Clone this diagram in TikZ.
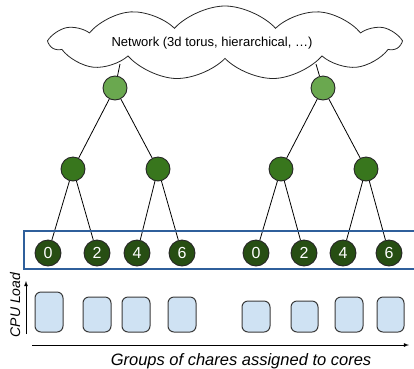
\documentclass[tikz,border=0pt]{standalone}
\usepackage{fontspec}
\setmainfont{Liberation Sans}
\usetikzlibrary{shapes.symbols}
\definecolor{topgreen}{HTML}{6AA84F}
\definecolor{midgreen}{HTML}{38761D}
\definecolor{leafgreen}{HTML}{274E13}
\definecolor{groupblue}{HTML}{2F5F9B}
\definecolor{loadfill}{HTML}{CFE2F3}
\definecolor{loadedge}{HTML}{3A3A3A}
\tikzset{
  treenode/.style={circle, draw=black!85, line width=0.9pt, inner sep=0pt},
  topnode/.style={treenode, fill=topgreen, minimum size=24pt},
  midnode/.style={treenode, fill=midgreen, minimum size=24pt},
  leafnode/.style={treenode, fill=leafgreen, minimum size=26pt, text=white,
    font=\fontsize{16}{16}\selectfont},
  link/.style={draw=black, line width=0.8pt},
  loadbox/.style={draw=loadedge, line width=1pt, fill=loadfill, rounded corners=6pt},
  axis/.style={draw=black, line width=0.8pt, -latex}
}
\begin{document}
\begin{tikzpicture}[x=1pt, y=-1pt]
\useasboundingbox (0,0) rectangle (414,368);

% tree nodes
\node[topnode] (t1) at (115,88) {};
\node[topnode] (t2) at (323,88) {};
\node[midnode] (m1) at (73,169) {};
\node[midnode] (m2) at (158,169) {};
\node[midnode] (m3) at (281,169) {};
\node[midnode] (m4) at (366,169) {};
\node[leafnode] (l1) at (48,253) {0};
\node[leafnode] (l2) at (97,253) {2};
\node[leafnode] (l3) at (137,253) {4};
\node[leafnode] (l4) at (182,253) {6};
\node[leafnode] (l5) at (256,253) {0};
\node[leafnode] (l6) at (304,253) {2};
\node[leafnode] (l7) at (343,253) {4};
\node[leafnode] (l8) at (389,253) {6};

% links up to the network
\coordinate (u1) at (120,64);
\coordinate (u2) at (316,64);
\draw[link] (u1) -- (t1);
\draw[link] (u2) -- (t2);

% network cloud
\node[cloud, cloud puffs=11, cloud puff arc=95, aspect=4.9, draw=black!85,
  line width=0.8pt, fill=white, minimum width=348pt, minimum height=74pt,
  inner sep=0pt] (net) at (225,43) {};
\node[font=\fontsize{13}{13}\selectfont] (netlabel) at (212,43)
  {Network (3d torus, hierarchical, …)};

% tree links
\draw[link] (t1) -- (m1);
\draw[link] (t1) -- (m2);
\draw[link] (t2) -- (m3);
\draw[link] (t2) -- (m4);
\draw[link] (m1) -- (l1);
\draw[link] (m1) -- (l2);
\draw[link] (m2) -- (l3);
\draw[link] (m2) -- (l4);
\draw[link] (m3) -- (l5);
\draw[link] (m3) -- (l6);
\draw[link] (m4) -- (l7);
\draw[link] (m4) -- (l8);

% group frame around the leaves
\draw[groupblue, line width=1.5pt] (424,231) -- (24,231) -- (24,269) -- (424,269);

% load per group
\draw[loadbox] (35,292) rectangle (63,332);
\draw[loadbox] (83,297) rectangle (111,332);
\draw[loadbox] (122,297) rectangle (150,332);
\draw[loadbox] (168,297) rectangle (196,332);
\draw[loadbox] (242,301) rectangle (270,332);
\draw[loadbox] (291,301) rectangle (318,332);
\draw[loadbox] (335,297) rectangle (363,332);
\draw[loadbox] (377,297) rectangle (404,332);

% axes
\coordinate (ya) at (26,334);
\coordinate (yb) at (26,281);
\coordinate (xa) at (32,345);
\coordinate (xb) at (409,345);
\draw[axis] (ya) -- (yb);
\draw[axis] (xa) -- (xb);
\node[rotate=90, font=\fontsize{14}{14}\selectfont\itshape] (ylabel) at (15,305) {CPU Load};
\node[font=\fontsize{16.5}{16.5}\selectfont\itshape] (xlabel) at (241,361)
  {Groups of chares assigned to cores};
\end{tikzpicture}
\end{document}
